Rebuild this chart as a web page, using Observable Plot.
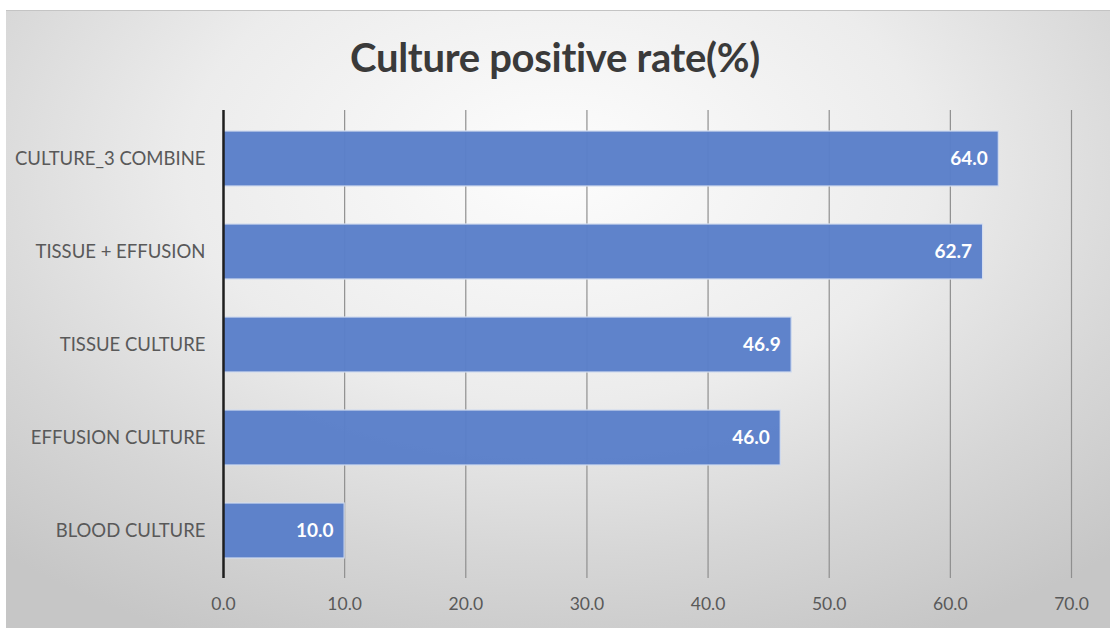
<!DOCTYPE html>
<html>
<head>
<meta charset="utf-8">
<script src="https://cdn.jsdelivr.net/npm/d3@7"></script>
<script src="https://cdn.jsdelivr.net/npm/@observablehq/plot@0.6"></script>
<style>
  html, body { margin: 0; padding: 0; background: #ffffff; width: 1110px; height: 628px; overflow: hidden; }
  #frame {
    position: absolute; left: 6px; top: 10px; width: 1104px; height: 617px;
    border-top: 1px solid #c4c4c4;
    background: radial-gradient(ellipse 75% 85% at 50% 25%, #fdfdfd 0%, #ececec 45%, #d6d6d6 75%, #c6c6c6 100%);
  }
  #title {
    position: absolute; left: 0; top: 33px; width: 1110px; text-align: center;
    font-family: Lato, "Open Sans", sans-serif; font-weight: bold; font-size: 40px; color: #3a3a3a;
    letter-spacing: -0.3px;
  }
  #chart { position: absolute; left: 0; top: 95px; }
</style>
</head>
<body>
<div id="frame"></div>
<div id="title">Culture positive rate(%)</div>
<div id="chart"></div>
<script>
const categories = ["CULTURE_3 COMBINE", "TISSUE + EFFUSION", "TISSUE CULTURE", "EFFUSION CULTURE", "BLOOD CULTURE"];
const values = [64.0, 62.7, 46.9, 46.0, 10.0];
const xTicks = [0, 10, 20, 30, 40, 50, 60, 70];

const data = categories.map((c, i) => ({category: c, value: values[i]}));
const fmt = d => d.toFixed(1);

const chart = Plot.plot({
  width: 1110,
  height: 533,
  marginLeft: 223,
  marginRight: 39,
  marginTop: 15,
  marginBottom: 50,
  x: {domain: [0, 70], ticks: xTicks, tickFormat: fmt, label: null},
  y: {domain: categories, paddingInner: 0.41, paddingOuter: 0.205, label: null},
  style: {background: "transparent", fontFamily: "Lato, 'Open Sans', sans-serif", fontSize: "18px", color: "#595959"},
  marks: [
    Plot.ruleX(xTicks.filter(d => d > 0), {stroke: "#8f8f8f", strokeWidth: 1.2}),
    Plot.barX(data, {x: "value", y: "category", fill: "#5a7fc9", fillOpacity: 0.97, stroke: "#d2dcef", strokeWidth: 1.2}),
    Plot.ruleX([0], {stroke: "#1e1e1e", strokeWidth: 2.5}),
    Plot.text(data, {x: "value", y: "category", text: d => fmt(d.value), textAnchor: "end", dx: -11, fill: "#ffffff", fontWeight: "bold", fontSize: 19}),
    Plot.axisX({ticks: xTicks, tickFormat: fmt, tickSize: 0, tickPadding: 19, fontSize: 17.5, label: null, fill: "#595959"}),
    Plot.axisY({tickSize: 0, tickPadding: 18, fontSize: 18.5, label: null, fill: "#595959"})
  ]
});
document.getElementById("chart").appendChild(chart);
</script>
</body>
</html>
